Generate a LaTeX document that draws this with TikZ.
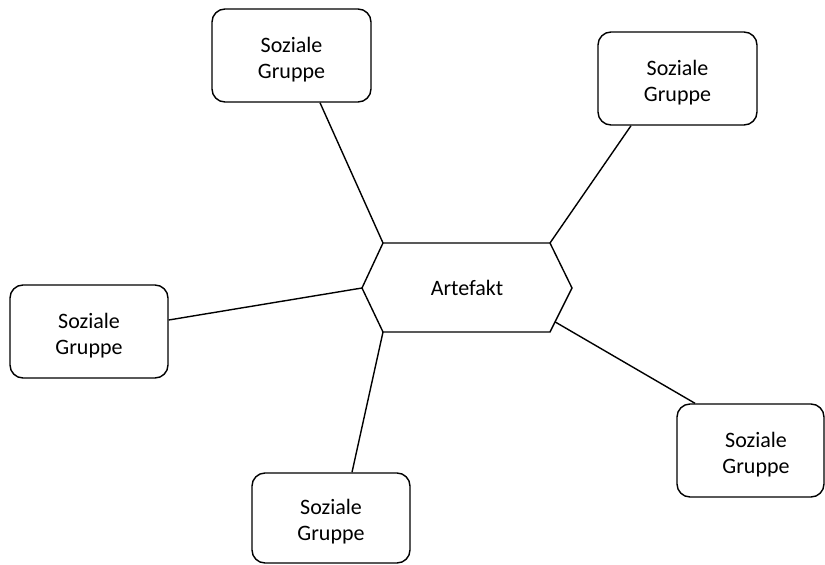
\documentclass[tikz,border=0pt]{standalone}
\usepackage{fontspec}
\setmainfont{Carlito}
\usetikzlibrary{calc}
\begin{document}
\begin{tikzpicture}[x=1pt,y=-1pt,
  group/.style={draw=black, line width=1.4pt, rounded corners=13pt, fill=white,
    inner sep=0pt},
  lbl/.style={align=center, font=\fontsize{22}{26}\selectfont, inner sep=0pt},
  link/.style={draw=black, line width=1.4pt}]
\useasboundingbox (0,0) rectangle (825,565);

% central artefact (hexagon)
\coordinate (h1) at (383,243);
\coordinate (h2) at (550,243);
\coordinate (h3) at (572,288);
\coordinate (h4) at (550,332);
\coordinate (h5) at (383,332);
\coordinate (h6) at (362,288);
\draw[line width=1.4pt, line join=miter] (h1) -- (h2) -- (h3) -- (h4) -- (h5) -- (h6) -- cycle;
\node[lbl] (art) at (467,288) {Artefakt};

% social groups
\node[group, minimum width=159pt, minimum height=93pt] (b1) at (291.5,55.5) {};
\node[lbl] (t1) at ([yshift=-4pt]b1.center) {Soziale\\Gruppe};

\node[group, minimum width=159pt, minimum height=93pt] (b2) at (677.5,78.5) {};
\node[lbl] (t2) at ([yshift=-4pt]b2.center) {Soziale\\Gruppe};

\node[group, minimum width=158pt, minimum height=93pt] (b3) at (89,331.5) {};
\node[lbl] (t3) at ([yshift=-4pt]b3.center) {Soziale\\Gruppe};

\node[group, minimum width=147pt, minimum height=93pt] (b4) at (750.5,450.5) {};
\node[lbl] (t4) at ([xshift=5.5pt,yshift=-4pt]b4.center) {Soziale\\Gruppe};

\node[group, minimum width=158pt, minimum height=90pt] (b5) at (331,518) {};
\node[lbl] (t5) at ([yshift=-4pt]b5.center) {Soziale\\Gruppe};

% connectors
\draw[link] ([xshift=28.5pt]b1.south) -- (h1);
\draw[link] ([xshift=-46.5pt]b2.south) -- (h2);
\draw[link] ([yshift=11.5pt]b3.east) -- (h6);
\draw[link] ([xshift=-55.5pt]b4.north) -- ($(h3)!0.77!(h4)$);
\draw[link] ([xshift=21pt]b5.north) -- (h5);
\end{tikzpicture}
\end{document}
